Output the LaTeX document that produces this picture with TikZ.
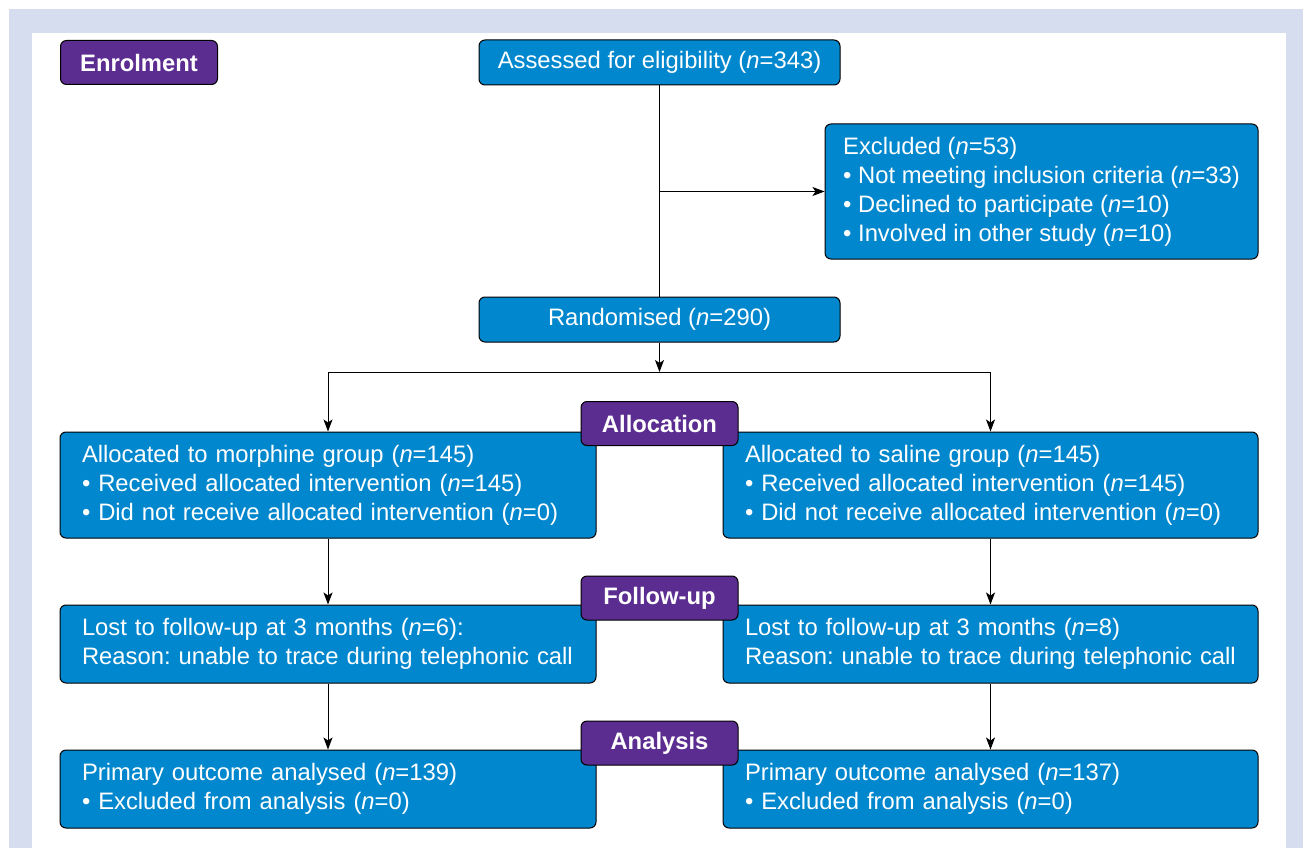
\documentclass[tikz,border=0pt]{standalone}
\usepackage{fontspec}
\setmainfont{Liberation Sans}
\usetikzlibrary{arrows.meta}
\definecolor{flowblue}{HTML}{0087CD}
\definecolor{stagepurple}{HTML}{5C2D91}
\definecolor{framelav}{HTML}{D5DDEF}
\frenchspacing

\begin{document}
\begin{tikzpicture}[x=1pt,y=-1pt,
    box/.style={draw=black, line width=1pt, fill=flowblue, rounded corners=6pt, text=white, inner ysep=0pt, font=\fontsize{23.8}{29}\selectfont},
    lbox/.style={box, align=left, inner xsep=#1},
    stage/.style={draw=black, line width=1pt, fill=stagepurple, rounded corners=6pt, text=white, inner sep=0pt, minimum width=157pt, minimum height=44pt, font=\fontsize{23.8}{29}\selectfont\bfseries},
    arr/.style={-{Stealth[length=12pt,width=9pt,inset=3pt]}, line width=0.9pt}]
            \useasboundingbox (0,0) rectangle (1303,848);
            \fill[framelav] (9,9) rectangle (1303,848);
            \fill[white] (32,33) rectangle (1286,848);

            % enrolment
            \node[box, inner xsep=0pt, minimum width=361pt, minimum height=45pt] (assess) at (659.5,62.5) {Assessed for eligibility (\textit{n}=343)};
            \node[box, align=left, inner xsep=0pt, minimum width=433pt, minimum height=135pt] (excl) at (1041.5,191.5) {Excluded (\textit{n}=53)\\
                \textbullet\ Not meeting inclusion criteria (\textit{n}=33)\\
                \textbullet\ Declined to participate (\textit{n}=10)\\
                \textbullet\ Involved in other study (\textit{n}=10)};
            \node[box, inner xsep=0pt, minimum width=361pt, minimum height=45pt] (rand) at (659.5,319.5) {Randomised (\textit{n}=290)};
            \coordinate (split) at (659.5,372);

            % allocation
            \node[lbox=22pt, text width=492pt, minimum height=106pt] (allocm) at (328,485) {Allocated to morphine group (\textit{n}=145)\\
                \textbullet\ Received allocated intervention (\textit{n}=145)\\
                \textbullet\ Did not receive allocated intervention (\textit{n}=0)};
            \node[lbox=22pt, text width=491pt, minimum height=106pt] (allocs) at (990.5,485) {Allocated to saline group (\textit{n}=145)\\
                \textbullet\ Received allocated intervention (\textit{n}=145)\\
                \textbullet\ Did not receive allocated intervention (\textit{n}=0)};

            % follow-up
            \node[lbox=22pt, text width=492pt, minimum height=78pt] (lostm) at (328,644) {Lost to follow-up at 3 months (\textit{n}=6):\\
                Reason: unable to trace during telephonic call};
            \node[lbox=22pt, text width=491pt, minimum height=78pt] (losts) at (990.5,644) {Lost to follow-up at 3 months (\textit{n}=8)\\
                Reason: unable to trace during telephonic call};

            % analysis
            \node[lbox=22pt, text width=492pt, minimum height=78pt] (primm) at (328,789) {Primary outcome analysed (\textit{n}=139)\\
                \textbullet\ Excluded from analysis (\textit{n}=0)};
            \node[lbox=22pt, text width=491pt, minimum height=78pt] (prims) at (990.5,789) {Primary outcome analysed (\textit{n}=137)\\
                \textbullet\ Excluded from analysis (\textit{n}=0)};

            \draw[line width=0.9pt] (assess.south) -- (rand.north);
            \draw[arr] (assess.south |- excl.west) -- (excl.west);
            \draw[arr] (rand.south) -- (split);
            \draw[arr] (split) -| (allocm.north);
            \draw[arr] (split) -| (allocs.north);
            \draw[arr] (allocm.south) -- (lostm.north);
            \draw[arr] (allocs.south) -- (losts.north);
            \draw[arr] (lostm.south) -- (primm.north);
            \draw[arr] (losts.south) -- (prims.north);

            % stage labels
            \node[stage] (enrol) at (139,62.5) {Enrolment};
            \node[stage] (allocation) at (659.5,423.5) {Allocation};
            \node[stage] (followup) at (659.5,598) {Follow-up};
            \node[stage] (analysis) at (659.5,743) {Analysis};
        \end{tikzpicture}
\end{document}
